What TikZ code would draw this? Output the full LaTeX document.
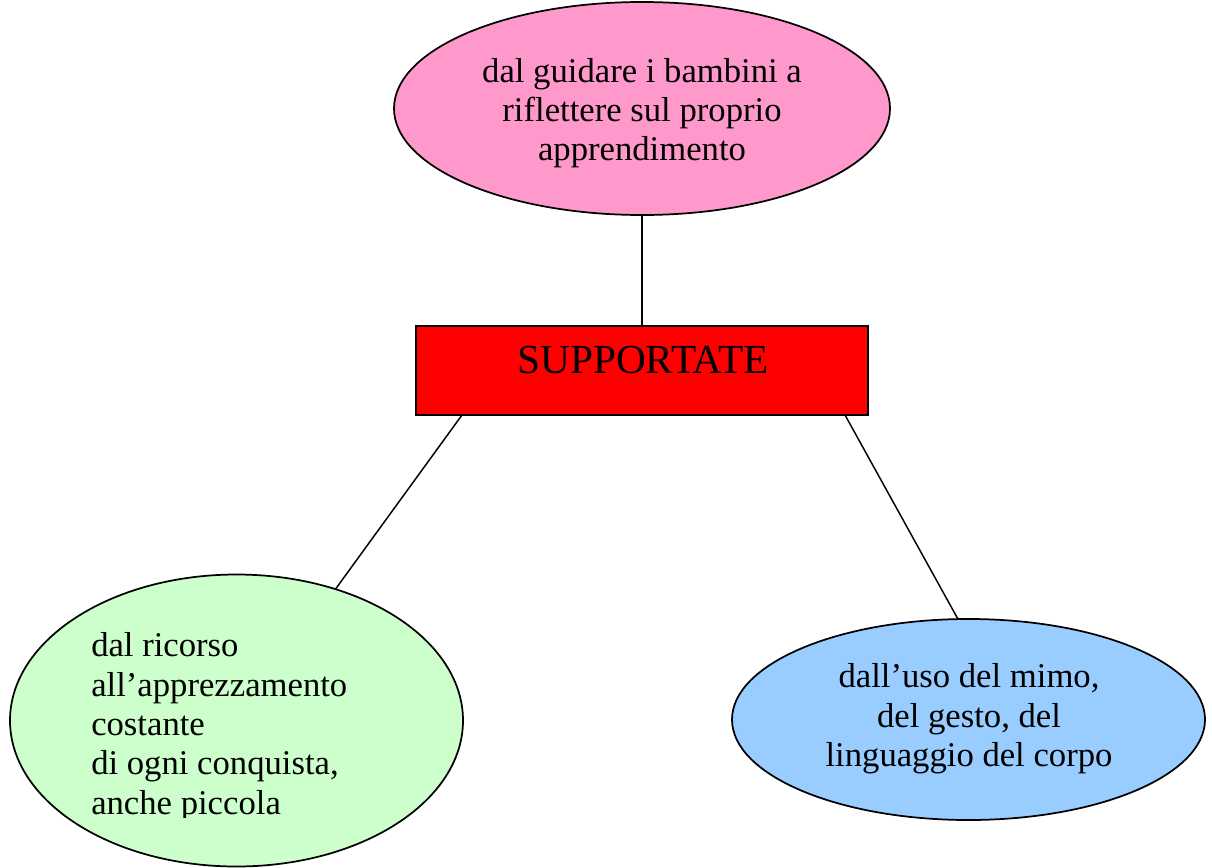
\documentclass[tikz,border=0pt]{standalone}
\usepackage{fontspec}
\setmainfont{Liberation Serif}
\usetikzlibrary{shapes.geometric,calc}
\definecolor{pinkfill}{HTML}{FF99CC}
\definecolor{redfill}{HTML}{FF0000}
\definecolor{greenfill}{HTML}{CCFFCC}
\definecolor{bluefill}{HTML}{99CCFF}
\tikzset{
  bubble/.style={ellipse, draw=black, line width=1.3pt, inner sep=0pt, outer sep=0pt},
  boxshape/.style={rectangle, draw=black, line width=1.3pt, inner sep=0pt, outer sep=0pt},
  btext/.style={inner sep=0pt, font=\fontsize{26pt}{29.5pt}\selectfont},
  connector/.style={draw=black, line width=1.1pt}
}
\begin{document}
\begin{tikzpicture}[x=0.75pt,y=-0.75pt]
\useasboundingbox[fill=white] (0,0) rectangle (1212,867);
% shapes
\node[bubble, fill=pinkfill, minimum width=372pt, minimum height=159.75pt] (top) at (642,108.5) {};
\node[boxshape, fill=redfill, minimum width=339pt, minimum height=66.75pt] (mid) at (642,370.5) {};
\node[bubble, fill=greenfill, minimum width=339.75pt, minimum height=219pt] (left) at (236.5,720.5) {};
\node[bubble, fill=bluefill, minimum width=354.75pt, minimum height=150.75pt] (right) at (968.5,719.5) {};
% connectors
\coordinate (midL) at ($(mid.south west)+(46,0)$);
\coordinate (midR) at ($(mid.south east)+(-23,0)$);
\draw[connector] (top.south) -- (mid.north);
\draw[connector] (midL) -- (left.53.9);
\draw[connector] (midR) -- (right.96);
% texts
\node[btext, align=center] (toptext) at (642,113) {dal guidare i bambini a\\riflettere sul proprio\\apprendimento};
\node[inner sep=0pt, font=\fontsize{31pt}{35pt}\selectfont] (midtext) at (643,360) {SUPPORTATE};
\begin{scope}
\clip (0,0) rectangle (1212,817);
\node[btext, align=left, anchor=west] (lefttext) at (91,727) {dal ricorso\\all’apprezzamento\\costante\\di ogni conquista,\\anche piccola};
\end{scope}
\node[btext, align=center] (righttext) at (969,719) {dall’uso del mimo,\\del gesto, del\\linguaggio del corpo};
\end{tikzpicture}
\end{document}
